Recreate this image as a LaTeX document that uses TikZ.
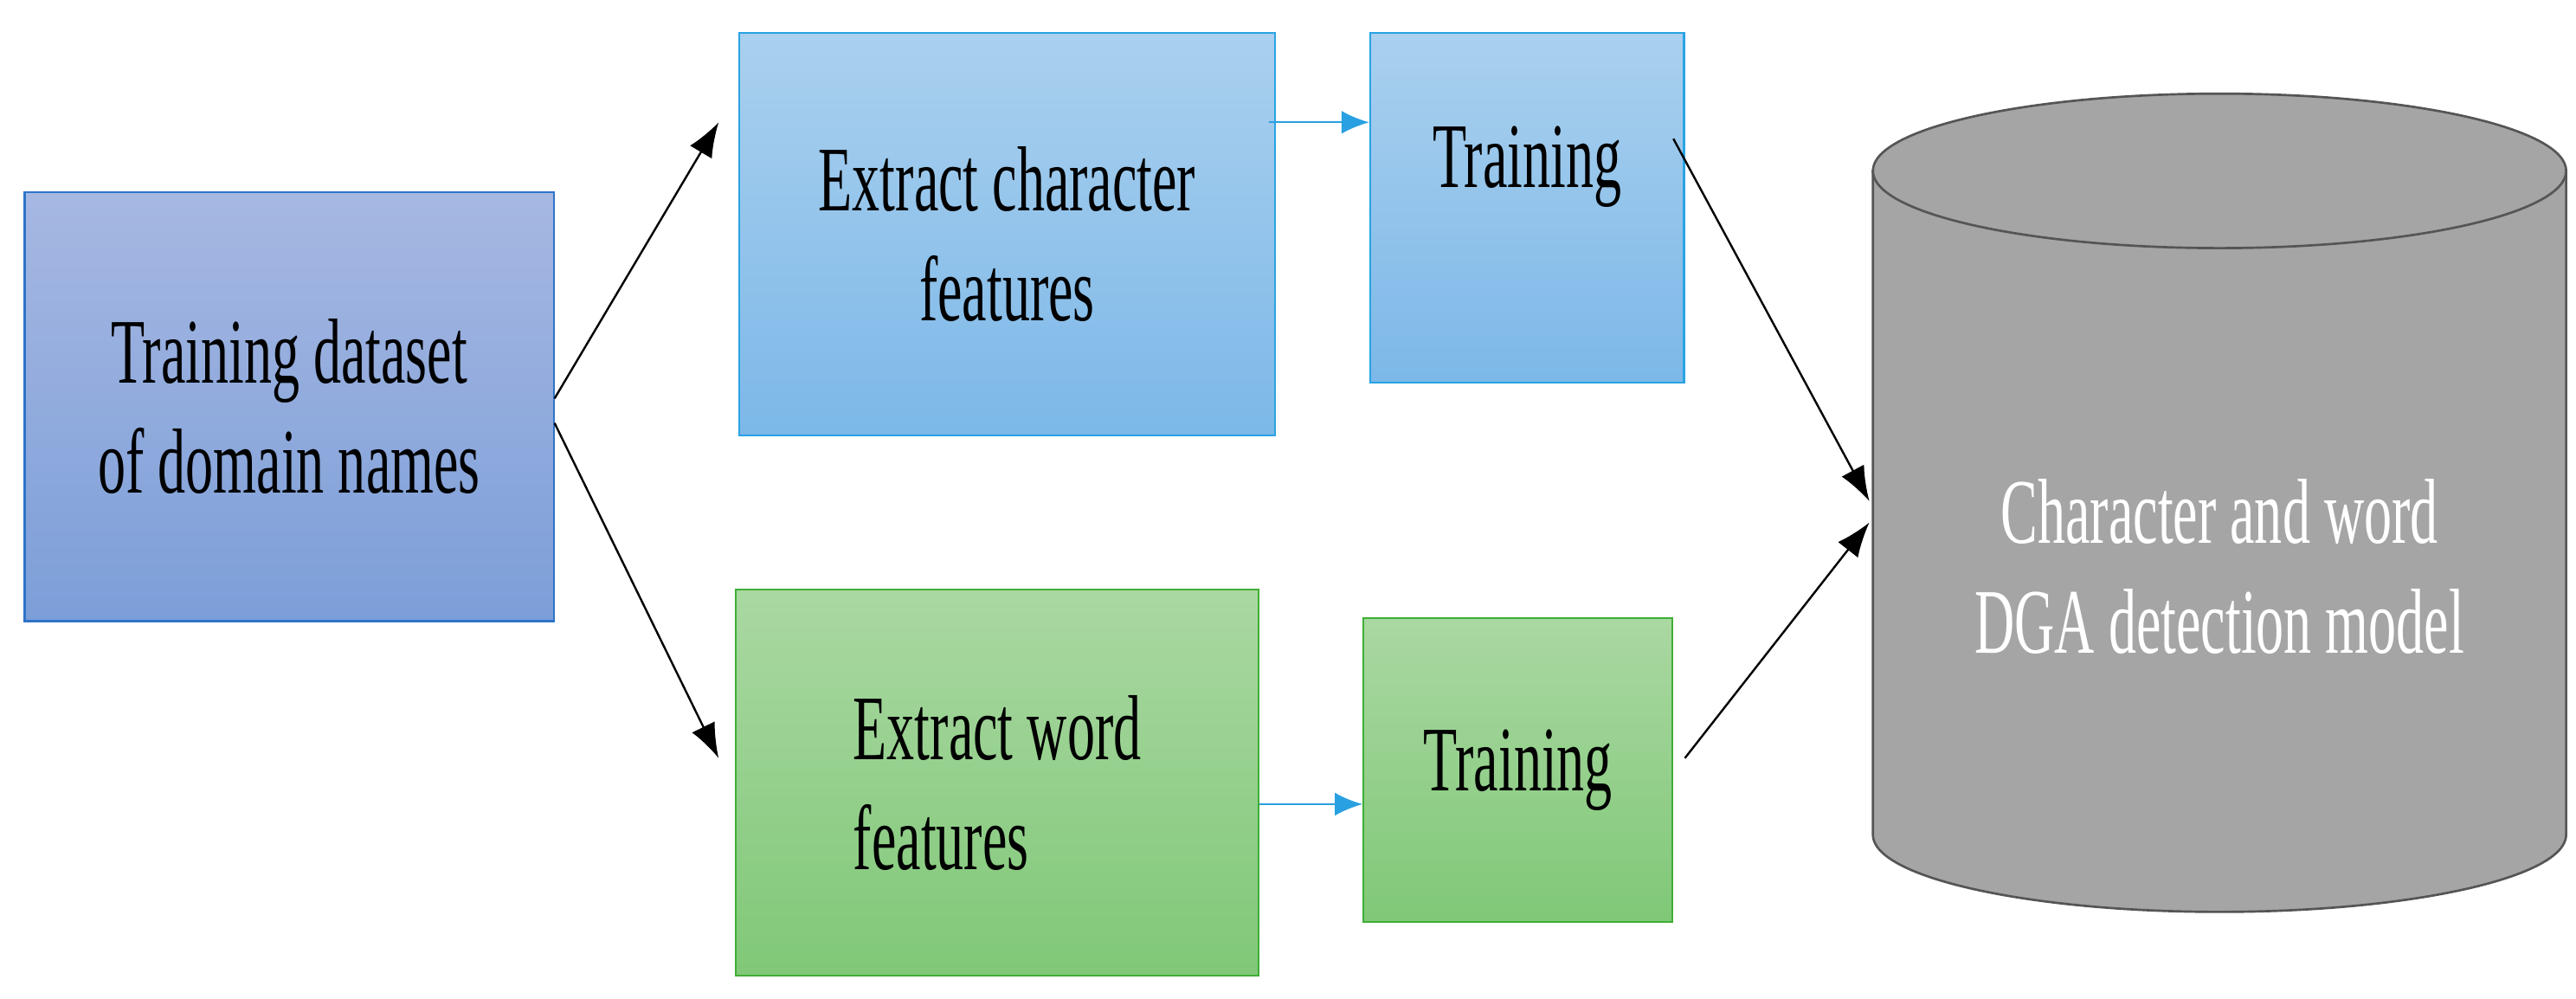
\documentclass[tikz,border=0pt]{standalone}
\usepackage{fontspec}
\usepackage{graphicx}
\setmainfont{Liberation Serif}
\usetikzlibrary{fit,calc,arrows.meta}
\newcommand{\nrw}[1]{\scalebox{0.6}[1]{#1}}
\definecolor{bA}{HTML}{2E74C8}
\definecolor{bB}{HTML}{2AA3E3}
\definecolor{bG}{HTML}{3FAE36}
\begin{document}
\begin{tikzpicture}[x=0.05cm,y=-0.05cm,
  box/.style={inner sep=0pt,draw,line width=1.6pt,align=center,font=\fontsize{80}{95}\selectfont},
  ar/.style={-{Latex[length=30pt,width=22pt]},line width=1.8pt,black},
  br/.style={-{Latex[length=24pt,width=20pt]},line width=1.8pt,draw={rgb,255:red,41;green,160;blue,225}}]
\useasboundingbox (0,0) rectangle (1568,608);
\node[box,draw=bA,top color={rgb,255:red,166;green,184;blue,226},bottom color={rgb,255:red,124;green,158;blue,216},fit={(15,117)(337,378)}] (a) {};
\node[font=\fontsize{80}{95}\selectfont,align=center] at (a.center) {\nrw{Training dataset}\\\nrw{of domain names}};
\node[box,draw=bB,top color={rgb,255:red,170;green,208;blue,238},bottom color={rgb,255:red,124;green,184;blue,232},fit={(450,20)(776,265)}] (b) {};
\node[font=\fontsize{80}{95}\selectfont,align=center] at (b.center) {\nrw{Extract character}\\\nrw{features}};
\node[box,draw=bB,top color={rgb,255:red,170;green,208;blue,238},bottom color={rgb,255:red,124;green,184;blue,232},fit={(834,20)(1025,233)}] (c) {};
\node[font=\fontsize{80}{95}\selectfont] at ($(c.center)+(0,-25)$) {\nrw{Training}};
\node[box,draw=bG,top color={rgb,255:red,170;green,216;blue,162},bottom color={rgb,255:red,128;green,200;blue,120},fit={(448,359)(766,594)}] (d) {};
\node[font=\fontsize{80}{95}\selectfont,align=left] at (d.center) {\nrw{Extract word}\\\nrw{features}};
\node[box,draw=bG,top color={rgb,255:red,170;green,216;blue,162},bottom color={rgb,255:red,128;green,200;blue,120},fit={(830,376)(1018,561)}] (e) {};
\node[font=\fontsize{80}{95}\selectfont] at (e.center) {\nrw{Training}};
% cylinder
\filldraw[fill={rgb,255:red,165;green,165;blue,165},draw={rgb,255:red,85;green,85;blue,85},line width=2pt]
  (1140,104) -- (1140,508) arc[start angle=180,end angle=0,x radius=211,y radius=47] -- (1562,104) -- cycle;
\filldraw[fill={rgb,255:red,165;green,165;blue,165},draw={rgb,255:red,85;green,85;blue,85},line width=2pt]
  (1351,104) ellipse[x radius=211,y radius=47];
\node[inner sep=0,fit={(1140,57)(1562,555)}] (f) {};
\node[font=\fontsize{80}{95}\selectfont,align=center,text=white] at (1351,345) {\nrw{Character and word}\\\nrw{DGA detection model}};
% arrows
\draw[ar] ($(a.east)+(0,-5)$) -- ($(b.north west)+(-12,55)$);
\draw[ar] ($(a.east)+(0,10)$) -- ($(d.north west)+(-10,103)$);
\draw[br] ($(b.north east)+(-4,55)$) -- ($(c.north west)+(0,55)$);
\draw[br] ($(d.north east)+(0,131)$) -- ($(e.north west)+(0,114)$);
\draw[ar] ($(c.north east)+(-7,65)$) -- ($(f.west)+(-2,-1)$);
\draw[ar] ($(e.north east)+(7,86)$) -- ($(f.west)+(-2,12)$);
\end{tikzpicture}
\end{document}
